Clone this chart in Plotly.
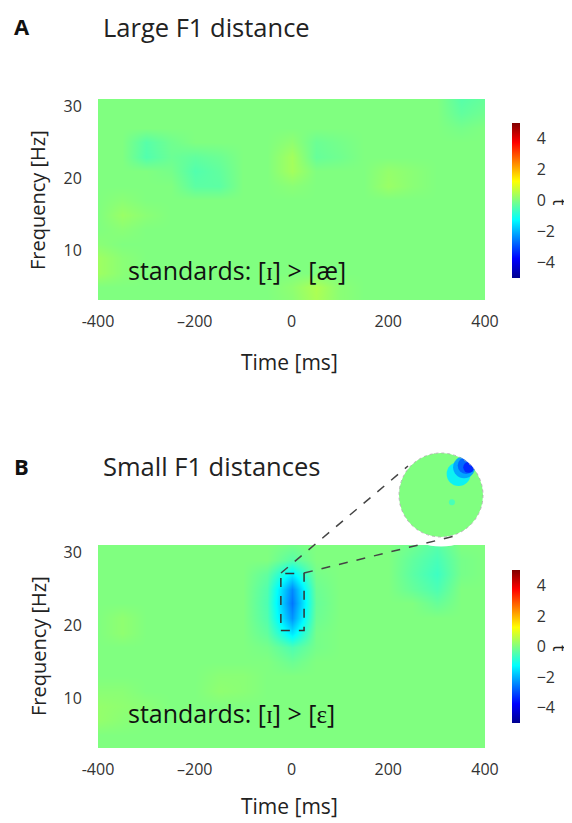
import plotly.graph_objects as go

# ---------------- data ----------------
times = [-400, -350, -300, -250, -200, -150, -100, -50, 0, 50, 100, 150, 200, 250, 300, 350, 400]
freqs = [3, 5, 7, 9, 11, 13, 15, 17, 19, 21, 23, 25, 27, 29, 31]

# t-values, rows = freqs (low -> high), cols = times
t_large = [
    [0, 0, 0, 0, 0, 0, 0, 0, 0.1, 0.4, 0.1, 0, 0, 0, 0, 0, 0],        # 3
    [0, 0, 0, 0, 0, 0, 0, 0, 0.15, 0.45, 0.1, 0, 0, 0, 0, 0, 0],      # 5
    [0.3, 0.1, 0, 0, 0, 0, 0, 0, 0, 0, 0, 0, 0, 0, 0, 0, 0],          # 7
    [0.3, 0.1, 0, 0, 0, 0, 0, 0, 0, 0, 0, 0, 0, 0, 0, 0, 0],          # 9
    [0.1, 0, 0, 0, 0, 0, 0, 0, 0, 0, 0, 0, 0, 0, 0, 0, 0],            # 11
    [0, 0.1, 0, 0, 0, 0, 0, 0, 0, 0, 0, 0, 0, 0, 0, 0, 0],            # 13
    [0, 0.25, 0.1, 0, 0, 0, 0, 0, 0, 0, 0, 0, 0, 0, 0, 0, 0],         # 15
    [0, 0.1, 0, 0, 0, 0, 0, 0, 0, 0, 0, 0, 0, 0, 0, 0, 0],            # 17
    [0, 0, 0, 0, -0.35, -0.35, 0, 0, 0.1, 0, 0, 0, 0.25, 0.1, 0, 0, 0],# 19
    [0, 0, 0, -0.1, -0.45, -0.3, 0, 0, 0.35, 0, 0, 0, 0.2, 0.1, 0, 0, 0],# 21
    [0, 0, -0.45, -0.2, -0.3, -0.2, 0, 0, 0.35, -0.25, -0.15, 0, 0, 0, 0, 0, 0],# 23
    [0, 0, -0.4, -0.15, 0, 0, 0, 0, 0.15, -0.2, -0.1, 0, 0, 0, 0, 0, 0],# 25
    [0, 0, 0, 0, 0, 0, 0, 0, 0, 0, 0, 0, 0, 0, 0, -0.1, 0],           # 27
    [0, 0, 0, 0, 0, 0, 0, 0, 0, 0, 0, 0, 0, 0, 0, -0.3, -0.15],       # 29
    [0, 0, 0, 0, 0, 0, 0, 0, 0, 0, 0, 0, 0, 0, 0, -0.4, -0.25],       # 31
]

t_small = [
    [0, 0, 0, 0, 0, 0, 0, 0, 0, 0, 0, 0, 0, 0, 0, 0, 0],              # 3
    [0, 0, 0, 0, 0, 0, 0, 0, 0, 0, 0, 0, 0, 0, 0, 0, 0],              # 5
    [0.2, 0.1, 0, 0, 0, 0, 0, 0, 0, 0, 0, 0, 0, 0, 0, 0, 0],          # 7
    [0.2, 0.15, 0.1, 0, 0, 0, 0, 0, 0, 0, 0, 0, 0, 0, 0, 0, 0],       # 9
    [0.1, 0.1, 0, 0, 0, 0.15, 0.1, 0, 0, 0, 0, 0, 0, 0, 0, 0, 0],     # 11
    [0, 0, 0, 0, 0, 0.1, 0.1, 0, 0, 0, 0, 0, 0, 0, 0, 0, 0],          # 13
    [0, 0, 0, 0, 0, 0, 0, 0, -0.2, 0, 0, 0, 0, 0, 0, 0, 0],           # 15
    [0, 0, 0, 0, 0, 0, 0, -0.1, -0.5, -0.1, 0, 0, 0, 0, 0, 0, 0],     # 17
    [0, 0.15, 0, 0, 0, 0, 0, -0.3, -1.5, -0.1, 0, 0, 0, 0, 0, 0, 0],  # 19
    [0, 0.15, 0, 0, 0, 0, 0, -0.45, -2.3, -0.2, 0, 0, 0, 0, 0, 0, 0], # 21
    [0, 0, 0, 0, 0, 0, 0, -0.5, -2.6, -0.25, 0, 0, 0, 0, -0.25, 0, 0],# 23
    [0, 0, 0, 0, 0, 0, 0, -0.45, -2.4, -0.2, 0, 0, 0, -0.25, -0.5, 0, 0],# 25
    [0, 0, 0, 0, 0, 0, 0, -0.3, -1.4, -0.1, 0, 0, 0, -0.35, -0.65, -0.1, 0],# 27
    [0, 0, 0, 0, 0, 0, 0, 0, -0.4, 0, 0, 0, 0, -0.3, -0.55, -0.1, 0], # 29
    [0, 0, 0, 0, 0, 0, 0, 0, -0.1, 0, 0, 0, 0, -0.15, -0.4, 0, 0],    # 31
]

# topography (head coords, radius 1) of the boxed cluster
topo_x = [0.42, 0.55, 0.60, 0.66, 0.26]
topo_y = [0.50, 0.66, 0.70, 0.66, -0.17]
topo_t = [-1.4, -2.2, -2.8, -3.4, -0.6]

time_ticks = [-400, -200, 0, 200, 400]
time_labels = ["-400", "–200", "0", "200", "400"]
freq_ticks = [10, 20, 30]
cbar_ticks = [-4, -2, 0, 2, 4]

# ---------------- style / layout ----------------
OFF = 8                      # page body margin of the html
W, H = 572 - OFF, 823 - OFF
FONT = "Open Sans"
jet = [[0, "#00008F"], [0.125, "#0000FF"], [0.375, "#00FFFF"],
       [0.5, "#80FF80"], [0.625, "#FFFF00"], [0.875, "#FF0000"], [1, "#800000"]]


def px(x):
    return (x - OFF) / W


def py(y):
    return 1 - (y - OFF) / H


fig = go.Figure()

fig.add_trace(go.Heatmap(x=times, y=freqs, z=t_large, coloraxis="coloraxis",
                         zsmooth="best", xaxis="x", yaxis="y"))
fig.add_trace(go.Heatmap(x=times, y=freqs, z=t_small, coloraxis="coloraxis2",
                         zsmooth="best", xaxis="x2", yaxis="y2"))
fig.add_trace(go.Scatter(x=topo_x, y=topo_y, mode="markers", xaxis="x3", yaxis="y3",
                         marker=dict(color=topo_t, coloraxis="coloraxis2",
                                     size=[24, 22, 17, 11, 6], line=dict(width=0), opacity=0.9),
                         showlegend=False))
# nose and ears of the head outline
fig.add_trace(go.Scatter(x=[-0.16, 0.0, 0.16], y=[0.99, 1.13, 0.99], mode="lines",
                         xaxis="x3", yaxis="y3", line=dict(color="#999", width=0.8, dash="dot"),
                         showlegend=False))
fig.add_trace(go.Scatter(x=[-0.99, -1.06, -1.08, -1.06, -0.99], y=[0.12, 0.1, -0.05, -0.2, -0.22],
                         mode="lines", xaxis="x3", yaxis="y3",
                         line=dict(color="#999", width=0.8, dash="dot"), showlegend=False))
fig.add_trace(go.Scatter(x=[0.99, 1.06, 1.08, 1.06, 0.99], y=[0.12, 0.1, -0.05, -0.2, -0.22],
                         mode="lines", xaxis="x3", yaxis="y3",
                         line=dict(color="#999", width=0.8, dash="dot"), showlegend=False))

tickfont = dict(family=FONT, size=16, color="#333")
xcommon = dict(range=[-400, 400], tickvals=time_ticks, ticktext=time_labels,
               showgrid=False, zeroline=False, showline=False, automargin=False,
               ticks="outside", ticklen=7, tickcolor="rgba(0,0,0,0)", tickfont=tickfont)
ycommon = dict(range=[3.2, 31], tickvals=freq_ticks,
               showgrid=False, zeroline=False, showline=False, automargin=False,
               ticks="outside", ticklen=12, tickcolor="rgba(0,0,0,0)", tickfont=tickfont)

cbcommon = dict(thickness=8, outlinewidth=0, tickvals=cbar_ticks, ticks="outside",
                ticklen=14, tickcolor="rgba(0,0,0,0)", tickfont=tickfont,
                xpad=0, ypad=0,
                x=px(512), xanchor="left", yanchor="middle", lenmode="fraction")

fig.update_layout(
    width=W, height=H, margin=dict(l=0, r=0, t=0, b=0, pad=0, autoexpand=False),
    paper_bgcolor="white", plot_bgcolor="white",
    font=dict(family=FONT, color="#222"),
    showlegend=False,
    xaxis=dict(domain=[px(98), px(485)], anchor="y", **xcommon),
    yaxis=dict(domain=[py(300), py(99)], anchor="x", **ycommon),
    xaxis2=dict(domain=[px(98), px(485)], anchor="y2", **xcommon),
    yaxis2=dict(domain=[py(748), py(545)], anchor="x2", **ycommon),
    xaxis3=dict(domain=[px(399), px(483)], anchor="y3", range=[-1.0, 1.0], visible=False),
    yaxis3=dict(domain=[py(537), py(453)], anchor="x3", range=[-1.0, 1.0], visible=False),
    coloraxis=dict(colorscale=jet, cmin=-5, cmax=5,
                   colorbar=dict(y=py(200.5), len=155 / H, **cbcommon)),
    coloraxis2=dict(colorscale=jet, cmin=-5, cmax=5,
                    colorbar=dict(y=py(646.5), len=153 / H, **cbcommon)),
)

# head (scalp map) circle, white mask ring, outline
cx, cy, r = 441, 495, 42
shapes = [
    dict(type="circle", xref="paper", yref="paper", layer="below",
         x0=px(cx - r), x1=px(cx + r), y0=py(cy + r), y1=py(cy - r),
         fillcolor="#80FF80", line=dict(width=0)),
    dict(type="circle", xref="paper", yref="paper", layer="above",
         x0=px(cx - r - 5), x1=px(cx + r + 5), y0=py(cy + r + 5), y1=py(cy - r - 5),
         fillcolor="rgba(0,0,0,0)", line=dict(color="white", width=9)),
    dict(type="circle", xref="paper", yref="paper", layer="above",
         x0=px(cx - r), x1=px(cx + r), y0=py(cy + r), y1=py(cy - r),
         fillcolor="rgba(0,0,0,0)", line=dict(color="#aaa", width=0.8, dash="dot")),
    # dashed box around the cluster
    dict(type="rect", xref="x2", yref="y2", layer="above",
         x0=-22, x1=26, y0=19.3, y1=27.1,
         line=dict(color="#333", width=1.5, dash="dash")),
    # zoom lines to the scalp map
    dict(type="line", xref="paper", yref="paper", layer="above",
         x0=px(281), y0=py(573), x1=px(408), y1=py(466),
         line=dict(color="#444", width=1.5, dash="dash")),
    dict(type="line", xref="paper", yref="paper", layer="above",
         x0=px(304), y0=py(573), x1=px(455), y1=py(536),
         line=dict(color="#444", width=1.5, dash="dash")),
]
fig.update_layout(shapes=shapes)

ann = []


def text(x, y, s, size, xanchor="center", angle=0, bold=False, color="#222"):
    ann.append(dict(xref="paper", yref="paper", x=px(x), y=py(y), text=("<b>%s</b>" % s if bold else s),
                    showarrow=False, xanchor=xanchor, yanchor="middle", textangle=angle,
                    font=dict(family=FONT, size=size, color=color)))


text(12, 26, "A", 22, xanchor="left", bold=True, color="#111")
text(101, 27, "Large F1 distance", 25.5, xanchor="left")
text(12, 466, "B", 22, xanchor="left", bold=True, color="#111")
text(101, 466, "Small F1 distances", 25.5, xanchor="left")

text(38, 200, "Frequency [Hz]", 20, angle=-90)
text(38, 646, "Frequency [Hz]", 20, angle=-90)
text(289, 362, "Time [ms]", 21)
text(289, 806, "Time [ms]", 21)

text(126, 270, "standards: [ɪ] &gt; [æ]", 25, xanchor="left", color="#111")
text(126, 713, "standards: [ɪ] &gt; [ɛ]", 25, xanchor="left", color="#111")

text(560, 202, "t", 18, angle=90)
text(560, 648, "t", 18, angle=90)

fig.update_layout(annotations=ann)

fig.write_html("out.html")
